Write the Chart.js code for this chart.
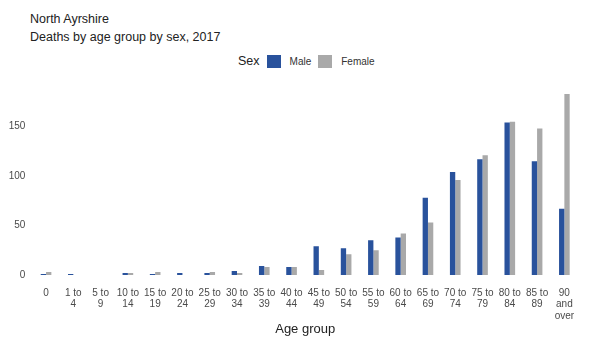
<!DOCTYPE html>
<html>
<head>
<meta charset="utf-8">
<script src="https://cdn.jsdelivr.net/npm/chart.js@4.4.1/dist/chart.umd.min.js"></script>
<style>
  html, body { margin: 0; padding: 0; background: #fff; }
  #wrap { position: relative; width: 607px; height: 354px; font-family: "Liberation Sans", Arial, sans-serif; }
  .t { position: absolute; left: 30px; font-size: 12.5px; color: #222; white-space: nowrap; line-height: 15px; }
  #legend { position: absolute; left: 238px; top: 53px; height: 16px; display: flex; align-items: center; white-space: nowrap; }
  #legend .ttl { font-size: 12.5px; color: #222; margin-right: 7px; }
  #legend .box { width: 14px; height: 13px; margin-right: 9px; }
  #legend .lbl { font-size: 10px; color: #333; margin-right: 7px; }
  canvas { position: absolute; left: 0; top: 0; }
</style>
</head>
<body>
<div id="wrap">
  <div class="t" style="top:12px">North Ayrshire</div>
  <div class="t" style="top:30px">Deaths by age group by sex, 2017</div>
  <div id="legend"></div>
  <canvas id="c" width="607" height="354"></canvas>
</div>
<script>
const categories = ["0","1 to 4","5 to 9","10 to 14","15 to 19","20 to 24","25 to 29","30 to 34","35 to 39","40 to 44","45 to 49","50 to 54","55 to 59","60 to 64","65 to 69","70 to 74","75 to 79","80 to 84","85 to 89","90 and over"];
const tickLabels = [["0"],["1 to","4"],["5 to","9"],["10 to","14"],["15 to","19"],["20 to","24"],["25 to","29"],["30 to","34"],["35 to","39"],["40 to","44"],["45 to","49"],["50 to","54"],["55 to","59"],["60 to","64"],["65 to","69"],["70 to","74"],["75 to","79"],["80 to","84"],["85 to","89"],["90","and","over"]];
const maleDeaths   = [1,1,0,2,1,2,2,4,9,8,29,27,35,38,78,104,117,154,115,67];
const femaleDeaths = [3,0,0,2,3,0,3,2,8,8,5,21,25,42,53,96,121,155,148,183];
const yTicks = [0,50,100,150];
const seriesNames = ["Male","Female"];
const seriesColors = ["#29529C","#A9A9A9"];

// HTML legend built from the series
const lg = document.getElementById('legend');
const st = document.createElement('span'); st.className = 'ttl'; st.textContent = 'Sex'; lg.appendChild(st);
seriesNames.forEach((n, i) => {
  const b = document.createElement('span'); b.className = 'box'; b.style.background = seriesColors[i]; lg.appendChild(b);
  const l = document.createElement('span'); l.className = 'lbl'; l.textContent = n; lg.appendChild(l);
});

const tickFont = { family: '"Liberation Sans", Arial, sans-serif', size: 10, lineHeight: 1.17 };

new Chart(document.getElementById('c'), {
  type: 'bar',
  data: {
    labels: categories,
    datasets: [
      { label: seriesNames[0], data: maleDeaths, backgroundColor: seriesColors[0], categoryPercentage: 0.39, barPercentage: 1.0 },
      { label: seriesNames[1], data: femaleDeaths, backgroundColor: seriesColors[1], categoryPercentage: 0.39, barPercentage: 1.0 }
    ]
  },
  options: {
    responsive: false,
    animation: false,
    devicePixelRatio: 1,
    layout: { padding: { top: 87, right: 29, left: 0, bottom: 0 } },
    plugins: { legend: { display: false }, title: { display: false }, tooltip: { enabled: false } },
    scales: {
      x: {
        grid: { display: false, drawTicks: false, tickLength: 0 },
        border: { display: false },
        ticks: {
          autoSkip: false, maxRotation: 0, minRotation: 0, padding: 12,
          color: '#4a4a4a', font: tickFont,
          callback: (v, i) => tickLabels[i]
        },
        title: { display: true, text: 'Age group', color: '#222', font: { family: '"Liberation Sans", Arial, sans-serif', size: 13 }, padding: { top: 4, bottom: 17 } },
        afterFit: s => { s.height = 79; }
      },
      y: {
        min: 0, max: 190,
        grid: { display: false, drawTicks: false, tickLength: 0 },
        border: { display: false },
        ticks: { stepSize: 50, padding: 7, color: '#4a4a4a', font: tickFont },
        afterBuildTicks: s => { s.ticks = yTicks.map(v => ({ value: v })); },
        afterFit: s => { s.width = 32.4; }
      }
    }
  }
});
</script>
</body>
</html>
